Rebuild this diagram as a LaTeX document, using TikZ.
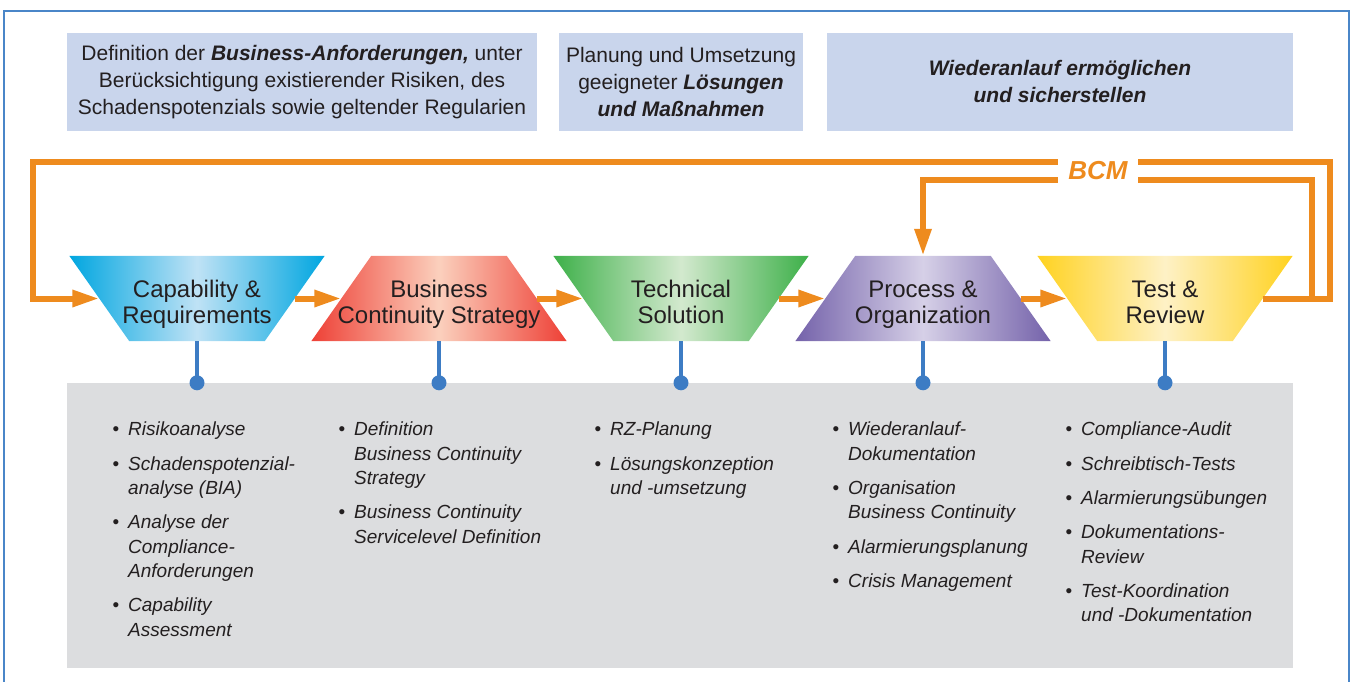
\documentclass[tikz,border=0pt]{standalone}
\usepackage{fontspec}
\setmainfont{Liberation Sans}
\usepackage{tikz}
\usetikzlibrary{
    positioning,
    arrows.meta,
    calc
}

\definecolor{frameblue}{HTML}{4A86C8}
\definecolor{boxblue}{HTML}{C9D5EC}
\definecolor{bcmorange}{HTML}{EE8B1E}
\definecolor{panelgray}{HTML}{DCDDDF}
\definecolor{stemblue}{HTML}{3D7CC4}
\definecolor{textgray}{HTML}{231F20}
\definecolor{capE}{HTML}{00A6E0}
\definecolor{capM}{HTML}{BFE2F5}
\definecolor{bcsE}{HTML}{EE4036}
\definecolor{bcsM}{HTML}{FBD0BD}
\definecolor{tsE}{HTML}{3DB049}
\definecolor{tsM}{HTML}{D3E9CE}
\definecolor{pocE}{HTML}{7462AA}
\definecolor{pocM}{HTML}{D6D0E7}
\definecolor{trE}{HTML}{FFD21F}
\definecolor{trM}{HTML}{FEF1C6}

\newcommand{\bul}{\llap{\textup{\textbullet}\hspace{9pt}}}

\tikzset{
    topbox/.style={fill=boxblue, inner sep=0pt, align=center, text=textgray,
        font=\fontsize{21}{27}\selectfont},
    stage/.style={minimum width=195pt, minimum height=85pt, inner sep=0pt},
    stagetext/.style={align=center, text=textgray, font=\fontsize{24}{26}\selectfont},
    flow/.style={draw=bcmorange, line width=6pt, -{Triangle[length=27pt, width=16pt]}},
    loopline/.style={draw=bcmorange, line width=6pt},
    stem/.style={draw=stemblue, line width=4pt},
    list/.style={anchor=north west, inner sep=0pt, align=left, text=textgray,
        font=\fontsize{19}{24.3}\selectfont\itshape}
}

\begin{document}
\begin{tikzpicture}[x=1pt, y=-1pt]
    \useasboundingbox (0,0) rectangle (1352,682);
    % Rahmen
    \draw[frameblue, line width=1.5pt] (4,682) |- (1349,11) -- (1349,682);

    % Kopfzeile
    \node[topbox, minimum width=470pt, minimum height=98pt] (req) at (302,82)
        {Definition der \textbf{\textit{Business-Anforderungen,}} unter\\
         Berücksichtigung existierender Risiken, des\\
         Schadenspotenzials sowie geltender Regularien};
    \node[topbox, minimum width=244pt, minimum height=98pt] (sol) at (681,82)
        {Planung und Umsetzung\\
         geeigneter \textbf{\textit{Lösungen}}\\
         \textbf{\textit{und Maßnahmen}}};
    \node[topbox, minimum width=466pt, minimum height=98pt] (rec) at (1060,82)
        {\textbf{\textit{Wiederanlauf ermöglichen}}\\
         \textbf{\textit{und sicherstellen}}};

    % Phasen
    \foreach \nm/\cx/\d/\ce/\cm/\txt in {
        cap/197/1/capE/capM/{Capability \&\\Requirements},
        bcs/439/-1/bcsE/bcsM/{Business\\Continuity Strategy},
        ts/681/1/tsE/tsM/{Technical\\Solution},
        poc/923/-1/pocE/pocM/{Process \&\\Organization},
        tr/1165/1/trE/trM/{Test \&\\Review}}
    {
        \node[stage] (\nm) at (\cx,298.5) {};
        \shade[left color=\ce, right color=\ce, middle color=\cm]
            ($(\nm.north west)+(-30*\d,0)$) -- ($(\nm.north east)+(30*\d,0)$)
            -- ($(\nm.south east)+(-30*\d,0)$) -- ($(\nm.south west)+(30*\d,0)$) -- cycle;
        \node[stagetext] at (\cx,305) {\strut\txt\strut};
    }

    % BCM-Kreislauf
    \coordinate (outerR) at (1330,162);
    \coordinate (outerL) at (33,162);
    \coordinate (innerR) at (1312,180);
    \draw[flow] (tr.east) -| (outerR) -- (outerL) |- (cap.west);
    \draw[flow] (innerR |- tr.east) -- (innerR) -| (poc.north);
    \node[fill=white, inner sep=0pt, minimum width=80pt, minimum height=30pt,
        text=bcmorange, font=\fontsize{26}{28}\selectfont\bfseries\itshape]
        (bcm) at (1098,171) {BCM};

    \draw[flow] (cap.east) -- (bcs.west);
    \draw[flow] (bcs.east) -- (ts.west);
    \draw[flow] (ts.east) -- (poc.west);
    \draw[flow] (poc.east) -- (tr.west);

    % Aufgaben
    \node[fill=panelgray, minimum width=1226pt, minimum height=285pt, inner sep=0pt]
        (panel) at (680,525.5) {};
    \foreach \nm in {cap,bcs,ts,poc,tr}
    {
        \draw[stem] (\nm.south) -- (\nm.south |- panel.north);
        \fill[stemblue] (\nm.south |- panel.north) circle (7.5pt);
    }

    \node[list] (l1) at (128,422)
        {\bul Risikoanalyse\\[10pt]
         \bul Schadenspotenzial-\\analyse (BIA)\\[10pt]
         \bul Analyse der\\Compliance-\\Anforderungen\\[10pt]
         \bul Capability\\Assessment};
    \node[list] (l2) at (354,422)
        {\bul Definition\\Business Continuity\\Strategy\\[10pt]
         \bul Business Continuity\\Servicelevel Definition};
    \node[list] (l3) at (610,422)
        {\bul RZ-Planung\\[10pt]
         \bul Lösungskonzeption\\und -umsetzung};
    \node[list] (l4) at (848,422)
        {\bul Wiederanlauf-\\Dokumentation\\[10pt]
         \bul Organisation\\Business Continuity\\[10pt]
         \bul Alarmierungsplanung\\[10pt]
         \bul Crisis Management};
    \node[list] (l5) at (1081,422)
        {\bul Compliance-Audit\\[10pt]
         \bul Schreibtisch-Tests\\[10pt]
         \bul Alarmierungsübungen\\[10pt]
         \bul Dokumentations-\\Review\\[10pt]
         \bul Test-Koordination\\und -Dokumentation};
\end{tikzpicture}
\end{document}
